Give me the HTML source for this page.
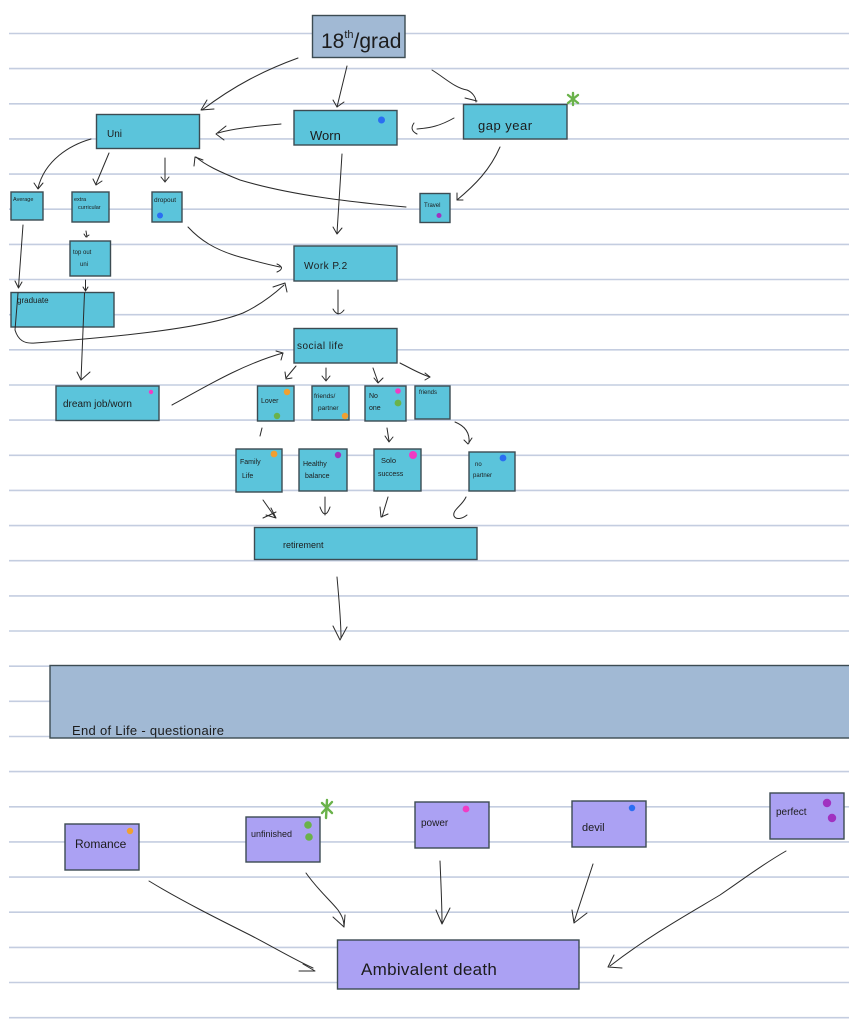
<!DOCTYPE html>
<html><head><meta charset="utf-8"><style>
html,body{margin:0;padding:0;background:#fff;}
svg{display:block;}
text{font-family:"Liberation Sans",sans-serif;fill:#1c1c1c;}
</style></head><body>
<svg width="849" height="1024" viewBox="0 0 849 1024" xmlns="http://www.w3.org/2000/svg">
<rect width="849" height="1024" fill="#fff"/>
<g stroke="#c4cde0" stroke-width="1.6">
<line x1="9" y1="33.5" x2="849" y2="33.5"/><line x1="9" y1="68.6" x2="849" y2="68.6"/><line x1="9" y1="103.8" x2="849" y2="103.8"/><line x1="9" y1="138.9" x2="849" y2="138.9"/><line x1="9" y1="174.1" x2="849" y2="174.1"/><line x1="9" y1="209.2" x2="849" y2="209.2"/><line x1="9" y1="244.4" x2="849" y2="244.4"/><line x1="9" y1="279.5" x2="849" y2="279.5"/><line x1="9" y1="314.7" x2="849" y2="314.7"/><line x1="9" y1="349.8" x2="849" y2="349.8"/><line x1="9" y1="385" x2="849" y2="385"/><line x1="9" y1="420.1" x2="849" y2="420.1"/><line x1="9" y1="455.3" x2="849" y2="455.3"/><line x1="9" y1="490.4" x2="849" y2="490.4"/><line x1="9" y1="525.6" x2="849" y2="525.6"/><line x1="9" y1="560.7" x2="849" y2="560.7"/><line x1="9" y1="595.9" x2="849" y2="595.9"/><line x1="9" y1="631" x2="849" y2="631"/><line x1="9" y1="666.2" x2="849" y2="666.2"/><line x1="9" y1="701.3" x2="849" y2="701.3"/><line x1="9" y1="736.5" x2="849" y2="736.5"/><line x1="9" y1="771.6" x2="849" y2="771.6"/><line x1="9" y1="806.8" x2="849" y2="806.8"/><line x1="9" y1="841.9" x2="849" y2="841.9"/><line x1="9" y1="877.1" x2="849" y2="877.1"/><line x1="9" y1="912.2" x2="849" y2="912.2"/><line x1="9" y1="947.4" x2="849" y2="947.4"/><line x1="9" y1="982.5" x2="849" y2="982.5"/><line x1="9" y1="1017.7" x2="849" y2="1017.7"/>
</g>

<!-- boxes -->
<g stroke="#3c4b52" stroke-width="1.4">
<rect x="312.5" y="15.5" width="92.5" height="42" fill="#a1b9d4"/>
<g fill="#5bc4db">
<rect x="96.5" y="114.5" width="103" height="34"/>
<rect x="294" y="110.5" width="103" height="34.5"/>
<rect x="463.5" y="104.5" width="103.5" height="34.5"/>
<rect x="11" y="192" width="32" height="28"/>
<rect x="72" y="192" width="37" height="30"/>
<rect x="152" y="192" width="30" height="30"/>
<rect x="420" y="193.5" width="30" height="29"/>
<rect x="70" y="241" width="40.5" height="35"/>
<rect x="294" y="246" width="103" height="35"/>
<rect x="11" y="292.5" width="103" height="34.5"/>
<rect x="294" y="328.5" width="103" height="34.5"/>
<rect x="56" y="386" width="103" height="34.5"/>
<rect x="257.5" y="386" width="36.5" height="35"/>
<rect x="312" y="386" width="37" height="34"/>
<rect x="365" y="386" width="41" height="35"/>
<rect x="415" y="386" width="35" height="33"/>
<rect x="236" y="449" width="46" height="43"/>
<rect x="299" y="449" width="48" height="42"/>
<rect x="374" y="449" width="47" height="42"/>
<rect x="469" y="452" width="46" height="39"/>
<rect x="254.5" y="527.5" width="222.5" height="32"/>
</g>
<rect x="50" y="665.5" width="805" height="72.5" fill="#a1b9d4"/>
<g fill="#aba1f3">
<rect x="65" y="824" width="74" height="46"/>
<rect x="246" y="817" width="74" height="45"/>
<rect x="415" y="802" width="74" height="46"/>
<rect x="572" y="801" width="74" height="46"/>
<rect x="770" y="793" width="74" height="46"/>
<rect x="337.5" y="940" width="241.5" height="49"/>
</g>
</g>

<!-- dots -->
<g>
<circle cx="381.5" cy="120" r="3.5" fill="#2a6ef2"/>
<circle cx="160" cy="215.5" r="3" fill="#2a6ef2"/>
<circle cx="439" cy="215.5" r="2.5" fill="#a032c0"/>
<circle cx="151" cy="392" r="2.2" fill="#f03cc4"/>
<circle cx="287" cy="392" r="3.2" fill="#f0a030"/>
<circle cx="277" cy="416" r="3.2" fill="#6ab24a"/>
<circle cx="345" cy="416" r="3.2" fill="#f0a030"/>
<circle cx="398" cy="391" r="2.8" fill="#f03cc4"/>
<circle cx="398" cy="403" r="3.4" fill="#6ab24a"/>
<circle cx="274" cy="454" r="3.4" fill="#f0a030"/>
<circle cx="338" cy="455" r="3.2" fill="#a032c0"/>
<circle cx="413" cy="455" r="4" fill="#f03cc4"/>
<circle cx="503" cy="458" r="3.4" fill="#2a6ef2"/>
<circle cx="130" cy="831" r="3.2" fill="#f0a030"/>
<circle cx="308" cy="825" r="3.8" fill="#6ab24a"/>
<circle cx="309" cy="837" r="3.8" fill="#6ab24a"/>
<circle cx="466" cy="809" r="3.4" fill="#f03cc4"/>
<circle cx="632" cy="808" r="3.2" fill="#2a6ef2"/>
<circle cx="827" cy="803" r="4.2" fill="#a032c0"/>
<circle cx="832" cy="818" r="4.2" fill="#a032c0"/>
</g>
<!-- stars -->
<g stroke="#6ab24a" stroke-width="2.4" stroke-linecap="round">
<line x1="568" y1="95" x2="578" y2="103"/><line x1="578" y1="95" x2="568" y2="103"/><line x1="573" y1="93" x2="573" y2="105"/>
<line x1="322" y1="803" x2="332" y2="813"/><line x1="332" y1="802" x2="322" y2="813"/><line x1="327" y1="800" x2="326" y2="818"/>
</g>

<!-- arrows -->
<g fill="none" stroke="#2a2a2a" stroke-width="1" stroke-linecap="round" stroke-linejoin="round">
<path d="M298,58 C265,70 235,85 202,110"/><path d="M207,100 L201,110 L214,109"/>
<path d="M347,66 L337,107"/><path d="M333,100 L337,107 L344,102"/>
<path d="M432,70 C445,78 455,88 467,90 C472,92 476,97 476,102"/><path d="M465,98 L477,101"/>
<path d="M281,124 C260,126 235,128 218,133"/><path d="M226,126 L216,134 L224,140"/>
<path d="M454,118 C440,126 430,128 417,129"/><path d="M414,123 Q409,130 417,134"/>
<path d="M91,139 C70,145 45,160 38,188"/><path d="M34,183 L38,189 L43,183"/>
<path d="M109,153 L96,184"/><path d="M93,179 L96,185 L102,181"/>
<path d="M165,158 L165,182"/><path d="M161,177 L165,182 L169,177"/>
<path d="M406,207 C350,202 290,195 240,180 C220,172 205,165 196,157"/><path d="M194,166 L195,157 L203,160"/>
<path d="M500,147 C490,170 475,185 457,200"/><path d="M457,193 L457,200 L463,200"/>
<path d="M342,154 L337,233"/><path d="M333,227 L337,234 L342,228"/>
<path d="M23,225 L18.5,287"/><path d="M15,281 L18.5,288 L22,282"/>
<path d="M86,231 L87,237"/><path d="M84,234 L86,237 L89,235"/>
<path d="M188,227 C200,240 215,250 240,257 C255,261 265,264 280,267"/><path d="M277,264 Q286,268 277,272"/>
<path d="M85.5,280 L85.5,290"/><path d="M83,287 L85.5,291 L88,287"/>
<path d="M84.5,293 L81,380"/><path d="M77,372 L81,380 L90,372"/>
<path d="M18,293 L15,330 C18,340 24,344 35,343 C100,338 200,330 243,313 C260,305 272,296 284,285"/><path d="M273,287 L285,283 L287,292"/>
<path d="M338,290 L338,314"/><path d="M333,309 Q338,318 344,310"/>
<path d="M172,405 C200,390 240,365 283,353"/><path d="M276,351 L283,353 L281,360"/>
<path d="M296,366 L286,378"/><path d="M285,372 L286,379 L292,378"/>
<path d="M326,368 L326,380"/><path d="M322,376 L326,381 L330,376"/>
<path d="M373,368 L378,382"/><path d="M374,378 L378,383 L383,378"/>
<path d="M400,363 C410,368 420,374 430,377"/><path d="M425,373 L430,377 L425,380"/>
<path d="M262,428 L260,436"/>
<path d="M387,428 L389,441"/><path d="M385,436 L389,442 L393,437"/>
<path d="M455,422 C465,426 470,433 469,443"/><path d="M464,440 L468,444 L472,438"/>
<path d="M263,500 L275,517"/><path d="M266,515 L276,518 L271,508"/><path d="M263,518 L276,512"/>
<path d="M325,497 L325,515"/><path d="M320,507 Q325,521 330,507"/>
<path d="M388,497 L382,517"/><path d="M380,507 L381,517 L388,514"/>
<path d="M466,497 C462,506 452,510 454,516 C456,520 462,519 467,515"/>
<path d="M337,577 C339,600 341,620 341,638"/><path d="M333,626 L340,640 L347,627"/>
<path d="M149,881 C180,900 220,920 250,935 C275,948 295,960 313,968"/><path d="M299,971 L315,971 L303,964"/>
<path d="M306,873 C318,890 330,900 338,910 C342,916 344,920 344,927"/><path d="M333,917 L344,927 L345,915"/>
<path d="M440,861 C441,885 442,905 442,923"/><path d="M436,910 L442,924 L450,908"/>
<path d="M593,864 L574,922"/><path d="M572,910 L574,923 L587,913"/>
<path d="M786,851 C760,866 745,878 720,895 C690,913 650,935 610,966"/><path d="M614,955 L608,967 L622,968"/>
<path d="M142,468 L142,481" stroke="none"/>
</g>

<!-- labels -->
<text x="321" y="48" font-size="21">18<tspan font-size="11" dy="-10">th</tspan><tspan dy="10">/grad</tspan></text>
<text x="107" y="137" font-size="10">Uni</text>
<text x="310" y="140" font-size="13">Worn</text>
<text x="478" y="130" font-size="13" letter-spacing="0.5">gap  year</text>
<text x="13" y="201" font-size="5.5">Average</text>
<text x="74" y="201" font-size="5.5">extra</text>
<text x="78" y="209" font-size="5.5">curricular</text>
<text x="154" y="202" font-size="6.5">dropout</text>
<text x="424" y="207" font-size="6">Travel</text>
<text x="73" y="254" font-size="6">top out</text>
<text x="80" y="266" font-size="6">uni</text>
<text x="17" y="303" font-size="8">graduate</text>
<text x="304" y="269" font-size="10" letter-spacing="0.5">Work  P.2</text>
<text x="297" y="349" font-size="10" letter-spacing="0.5">social  life</text>
<text x="63" y="407" font-size="10">dream  job/worn</text>
<text x="261" y="403" font-size="7">Lover</text>
<text x="314" y="398" font-size="6.5">friends/</text>
<text x="318" y="410" font-size="6.5">partner</text>
<text x="369" y="398" font-size="7">No</text>
<text x="369" y="410" font-size="7">one</text>
<text x="419" y="394" font-size="6">friends</text>
<text x="240" y="464" font-size="7">Family</text>
<text x="242" y="478" font-size="7">Life</text>
<text x="303" y="466" font-size="7">Healthy</text>
<text x="305" y="478" font-size="7">balance</text>
<text x="381" y="463" font-size="7.5">Solo</text>
<text x="378" y="476" font-size="7">success</text>
<text x="475" y="466" font-size="6">no</text>
<text x="473" y="477" font-size="6">partner</text>
<text x="283" y="548" font-size="9">retirement</text>
<text x="72" y="735" font-size="13" letter-spacing="0.3">End   of   Life  -  questionaire</text>
<text x="75" y="848" font-size="12">Romance</text>
<text x="251" y="837" font-size="9">unfinished</text>
<text x="421" y="826" font-size="10">power</text>
<text x="582" y="831" font-size="11">devil</text>
<text x="776" y="815" font-size="10">perfect</text>
<text x="361" y="975" font-size="17" letter-spacing="0.3">Ambivalent   death</text>
</svg>
</body></html>
